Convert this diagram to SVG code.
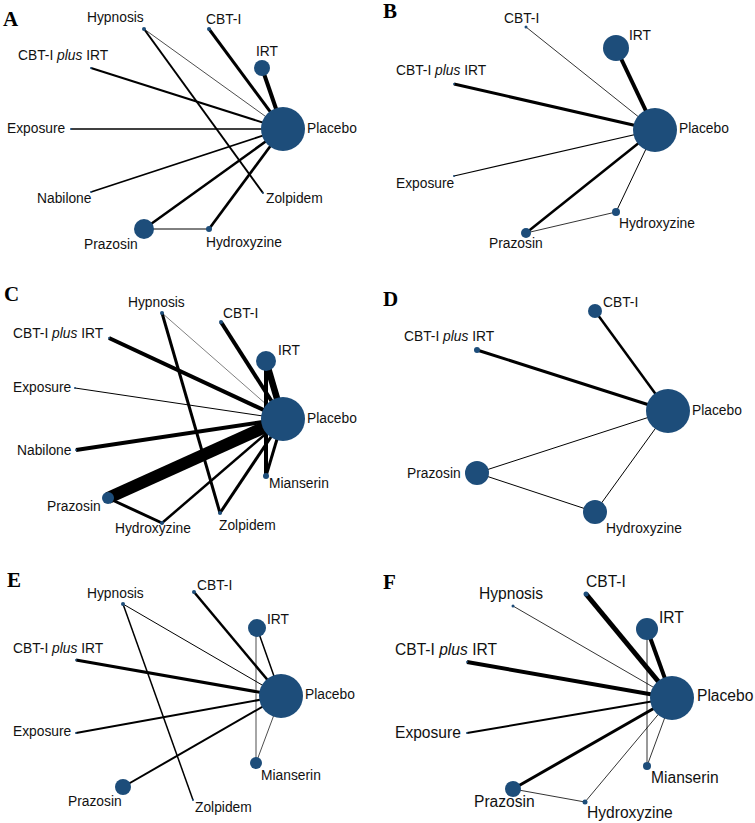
<svg xmlns="http://www.w3.org/2000/svg" width="755" height="823" viewBox="0 0 755 823">
<style>
.bg{fill:#fff}
.n{fill:#1d4d7a}
.e{stroke:#000;fill:none}
.t{font-family:"Liberation Sans",Arial,sans-serif;font-size:13.8px;fill:#111}
.tf{font-family:"Liberation Sans",Arial,sans-serif;font-size:15.6px;fill:#111}
.L{font-family:"Liberation Serif","Times New Roman",serif;font-weight:bold;font-size:21px;fill:#000}
.i{font-style:italic}
</style>
<rect class="bg" x="0" y="0" width="755" height="823"/>

<!-- Panel A -->
<g id="panelA">
<text class="L" x="3" y="26">A</text>
<g id="A-connectors">
<line class="e" x1="144" y1="29" x2="283" y2="129" stroke-width="0.7"/>
<line class="e" x1="144" y1="29" x2="263" y2="193" stroke-width="2"/>
<line class="e" x1="209" y1="29" x2="283" y2="129" stroke-width="3"/>
<line class="e" x1="262" y1="68" x2="283" y2="129" stroke-width="4"/>
<line class="e" x1="91" y1="68" x2="283" y2="129" stroke-width="2"/>
<line class="e" x1="71" y1="129" x2="283" y2="129" stroke-width="1.5"/>
<line class="e" x1="91" y1="192" x2="283" y2="129" stroke-width="1.7"/>
<line class="e" x1="144" y1="229" x2="283" y2="129" stroke-width="2.5"/>
<line class="e" x1="209" y1="229" x2="283" y2="129" stroke-width="2.7"/>
<line class="e" x1="144" y1="229" x2="209" y2="229" stroke-width="1"/>
</g>
<g id="A-hypnosis"><circle class="n" cx="144" cy="29" r="2"/><text class="t" x="87" y="22">Hypnosis</text></g>
<g id="A-cbti"><circle class="n" cx="209" cy="29" r="2"/><text class="t" x="206" y="24">CBT-I</text></g>
<g id="A-irt"><circle class="n" cx="262" cy="68" r="8"/><text class="t" x="256" y="56">IRT</text></g>
<g id="A-cbtiirt"><circle class="n" cx="91" cy="68" r="1"/><text class="t" x="18" y="60">CBT-I <tspan class="i">plus</tspan> IRT</text></g>
<g id="A-exposure"><circle class="n" cx="71" cy="129" r="1"/><text class="t" x="7" y="133">Exposure</text></g>
<g id="A-placebo"><circle class="n" cx="283" cy="129" r="22"/><text class="t" x="307" y="133">Placebo</text></g>
<g id="A-nabilone"><circle class="n" cx="91" cy="192" r="1"/><text class="t" x="37" y="203">Nabilone</text></g>
<g id="A-zolpidem"><circle class="n" cx="263" cy="193" r="1"/><text class="t" x="266" y="203">Zolpidem</text></g>
<g id="A-prazosin"><circle class="n" cx="144" cy="229" r="10"/><text class="t" x="84" y="249">Prazosin</text></g>
<g id="A-hydroxyzine"><circle class="n" cx="209" cy="229" r="3"/><text class="t" x="206" y="247">Hydroxyzine</text></g>
</g>

<!-- Panel B -->
<g id="panelB">
<text class="L" x="383" y="18">B</text>
<g id="B-connectors">
<line class="e" x1="526" y1="27" x2="655" y2="130" stroke-width="0.8"/>
<line class="e" x1="616" y1="48" x2="655" y2="130" stroke-width="4"/>
<line class="e" x1="454" y1="84" x2="655" y2="130" stroke-width="3"/>
<line class="e" x1="454" y1="176" x2="655" y2="130" stroke-width="1.2"/>
<line class="e" x1="526" y1="233" x2="655" y2="130" stroke-width="2.5"/>
<line class="e" x1="616" y1="212" x2="655" y2="130" stroke-width="1"/>
<line class="e" x1="526" y1="233" x2="616" y2="212" stroke-width="0.8"/>
</g>
<g id="B-cbti"><circle class="n" cx="526" cy="27" r="1.5"/><text class="t" x="504" y="23">CBT-I</text></g>
<g id="B-irt"><circle class="n" cx="616" cy="48" r="13"/><text class="t" x="629" y="40">IRT</text></g>
<g id="B-cbtiirt"><circle class="n" cx="454" cy="84" r="1"/><text class="t" x="396" y="75">CBT-I <tspan class="i">plus</tspan> IRT</text></g>
<g id="B-placebo"><circle class="n" cx="655" cy="130" r="22"/><text class="t" x="679" y="133">Placebo</text></g>
<g id="B-exposure"><circle class="n" cx="454" cy="176" r="1"/><text class="t" x="396" y="188">Exposure</text></g>
<g id="B-hydroxyzine"><circle class="n" cx="616" cy="212" r="4"/><text class="t" x="619" y="228">Hydroxyzine</text></g>
<g id="B-prazosin"><circle class="n" cx="526" cy="233" r="5"/><text class="t" x="489" y="248">Prazosin</text></g>
</g>

<!-- Panel C -->
<g id="panelC">
<text class="L" x="4" y="301">C</text>
<g id="C-connectors">
<line class="e" x1="162" y1="313" x2="283" y2="419" stroke-width="0.5"/>
<line class="e" x1="162" y1="313" x2="220" y2="513" stroke-width="3"/>
<line class="e" x1="221" y1="322" x2="283" y2="419" stroke-width="4"/>
<line class="e" x1="266" y1="361" x2="283" y2="419" stroke-width="6.5"/>
<line class="e" x1="266" y1="361" x2="266" y2="476" stroke-width="4"/>
<line class="e" x1="109" y1="338" x2="283" y2="419" stroke-width="4"/>
<line class="e" x1="75" y1="388" x2="283" y2="419" stroke-width="1"/>
<line class="e" x1="76" y1="450" x2="283" y2="419" stroke-width="4"/>
<line class="e" x1="108" y1="498" x2="283" y2="419" stroke-width="12"/>
<line class="e" x1="108" y1="498" x2="162" y2="523" stroke-width="3"/>
<line class="e" x1="162" y1="523" x2="283" y2="419" stroke-width="2.5"/>
<line class="e" x1="220" y1="513" x2="283" y2="419" stroke-width="3"/>
<line class="e" x1="266" y1="476" x2="283" y2="419" stroke-width="3"/>
</g>
<g id="C-hypnosis"><circle class="n" cx="162" cy="313" r="2"/><text class="t" x="128" y="307">Hypnosis</text></g>
<g id="C-cbti"><circle class="n" cx="221" cy="322" r="2"/><text class="t" x="223" y="318">CBT-I</text></g>
<g id="C-irt"><circle class="n" cx="266" cy="361" r="10"/><text class="t" x="278" y="355">IRT</text></g>
<g id="C-cbtiirt"><circle class="n" cx="109" cy="338" r="1"/><text class="t" x="13" y="338">CBT-I <tspan class="i">plus</tspan> IRT</text></g>
<g id="C-exposure"><circle class="n" cx="75" cy="388" r="1"/><text class="t" x="13" y="392">Exposure</text></g>
<g id="C-placebo"><circle class="n" cx="283" cy="419" r="22"/><text class="t" x="307" y="423">Placebo</text></g>
<g id="C-nabilone"><circle class="n" cx="76" cy="450" r="1"/><text class="t" x="17" y="455">Nabilone</text></g>
<g id="C-mianserin"><circle class="n" cx="266" cy="476" r="3"/><text class="t" x="269" y="488">Mianserin</text></g>
<g id="C-prazosin"><circle class="n" cx="108" cy="498" r="6"/><text class="t" x="47" y="511">Prazosin</text></g>
<g id="C-hydroxyzine"><circle class="n" cx="162" cy="523" r="2"/><text class="t" x="115" y="533">Hydroxyzine</text></g>
<g id="C-zolpidem"><circle class="n" cx="220" cy="513" r="2"/><text class="t" x="219" y="530">Zolpidem</text></g>
</g>

<!-- Panel D -->
<g id="panelD">
<text class="L" x="383" y="306">D</text>
<g id="D-connectors">
<line class="e" x1="595" y1="311" x2="668" y2="411" stroke-width="2.5"/>
<line class="e" x1="477" y1="350" x2="668" y2="411" stroke-width="3"/>
<line class="e" x1="477" y1="473" x2="668" y2="411" stroke-width="1"/>
<line class="e" x1="595" y1="512" x2="668" y2="411" stroke-width="1"/>
<line class="e" x1="477" y1="473" x2="595" y2="512" stroke-width="1"/>
</g>
<g id="D-cbti"><circle class="n" cx="595" cy="311" r="7"/><text class="t" x="603" y="307">CBT-I</text></g>
<g id="D-cbtiirt"><circle class="n" cx="477" cy="350" r="3"/><text class="t" x="404" y="341">CBT-I <tspan class="i">plus</tspan> IRT</text></g>
<g id="D-placebo"><circle class="n" cx="668" cy="411" r="22"/><text class="t" x="692" y="415">Placebo</text></g>
<g id="D-prazosin"><circle class="n" cx="477" cy="473" r="12"/><text class="t" x="407" y="478">Prazosin</text></g>
<g id="D-hydroxyzine"><circle class="n" cx="595" cy="512" r="12"/><text class="t" x="606" y="533">Hydroxyzine</text></g>
</g>

<!-- Panel E -->
<g id="panelE">
<text class="L" x="7" y="587">E</text>
<g id="E-connectors">
<line class="e" x1="123" y1="604" x2="281" y2="696" stroke-width="1"/>
<line class="e" x1="123" y1="604" x2="193" y2="800" stroke-width="1.5"/>
<line class="e" x1="194" y1="592" x2="281" y2="696" stroke-width="2.5"/>
<line class="e" x1="257" y1="628" x2="281" y2="696" stroke-width="1.5"/>
<line class="e" x1="256" y1="628" x2="256" y2="763" stroke-width="0.7"/>
<line class="e" x1="76" y1="660" x2="281" y2="696" stroke-width="3"/>
<line class="e" x1="76" y1="733" x2="281" y2="696" stroke-width="2"/>
<line class="e" x1="123" y1="787" x2="281" y2="696" stroke-width="2"/>
<line class="e" x1="256" y1="763" x2="281" y2="696" stroke-width="0.7"/>
</g>
<g id="E-hypnosis"><circle class="n" cx="123" cy="604" r="2"/><text class="t" x="87" y="598">Hypnosis</text></g>
<g id="E-cbti"><circle class="n" cx="194" cy="592" r="2"/><text class="t" x="197" y="590">CBT-I</text></g>
<g id="E-irt"><circle class="n" cx="257" cy="628" r="9"/><text class="t" x="267" y="624">IRT</text></g>
<g id="E-cbtiirt"><circle class="n" cx="76" cy="660" r="1"/><text class="t" x="13" y="653">CBT-I <tspan class="i">plus</tspan> IRT</text></g>
<g id="E-placebo"><circle class="n" cx="281" cy="696" r="22"/><text class="t" x="305" y="699">Placebo</text></g>
<g id="E-exposure"><circle class="n" cx="76" cy="733" r="1"/><text class="t" x="13" y="736">Exposure</text></g>
<g id="E-mianserin"><circle class="n" cx="256" cy="763" r="6"/><text class="t" x="261" y="780">Mianserin</text></g>
<g id="E-prazosin"><circle class="n" cx="123" cy="787" r="8"/><text class="t" x="68" y="806">Prazosin</text></g>
<g id="E-zolpidem"><circle class="n" cx="193" cy="800" r="1"/><text class="t" x="195" y="812">Zolpidem</text></g>
</g>

<!-- Panel F -->
<g id="panelF">
<text class="L" x="383" y="589">F</text>
<g id="F-connectors">
<line class="e" x1="513" y1="606" x2="672" y2="698" stroke-width="0.8"/>
<line class="e" x1="586" y1="594" x2="672" y2="698" stroke-width="5"/>
<line class="e" x1="647" y1="629" x2="672" y2="698" stroke-width="4"/>
<line class="e" x1="647" y1="629" x2="647" y2="766" stroke-width="0.8"/>
<line class="e" x1="467" y1="662" x2="672" y2="698" stroke-width="4"/>
<line class="e" x1="467" y1="733" x2="672" y2="698" stroke-width="2"/>
<line class="e" x1="513" y1="789" x2="672" y2="698" stroke-width="3"/>
<line class="e" x1="513" y1="789" x2="585" y2="802" stroke-width="0.8"/>
<line class="e" x1="585" y1="802" x2="672" y2="698" stroke-width="0.8"/>
<line class="e" x1="647" y1="766" x2="672" y2="698" stroke-width="0.8"/>
</g>
<g id="F-hypnosis"><circle class="n" cx="513" cy="606" r="1.5"/><text class="tf" x="479" y="599">Hypnosis</text></g>
<g id="F-cbti"><circle class="n" cx="586" cy="594" r="2.5"/><text class="tf" x="586" y="587">CBT-I</text></g>
<g id="F-irt"><circle class="n" cx="647" cy="629" r="11"/><text class="tf" x="659" y="623">IRT</text></g>
<g id="F-cbtiirt"><circle class="n" cx="467" cy="662" r="1"/><text class="tf" x="395" y="655">CBT-I <tspan class="i">plus</tspan> IRT</text></g>
<g id="F-placebo"><circle class="n" cx="672" cy="698" r="22"/><text class="tf" x="697" y="701">Placebo</text></g>
<g id="F-exposure"><circle class="n" cx="467" cy="733" r="1"/><text class="tf" x="395" y="738">Exposure</text></g>
<g id="F-mianserin"><circle class="n" cx="647" cy="766" r="4"/><text class="tf" x="651" y="783">Mianserin</text></g>
<g id="F-prazosin"><circle class="n" cx="513" cy="789" r="8"/><text class="tf" x="474" y="807">Prazosin</text></g>
<g id="F-hydroxyzine"><circle class="n" cx="585" cy="802" r="2.5"/><text class="tf" x="587" y="818">Hydroxyzine</text></g>
</g>
</svg>
